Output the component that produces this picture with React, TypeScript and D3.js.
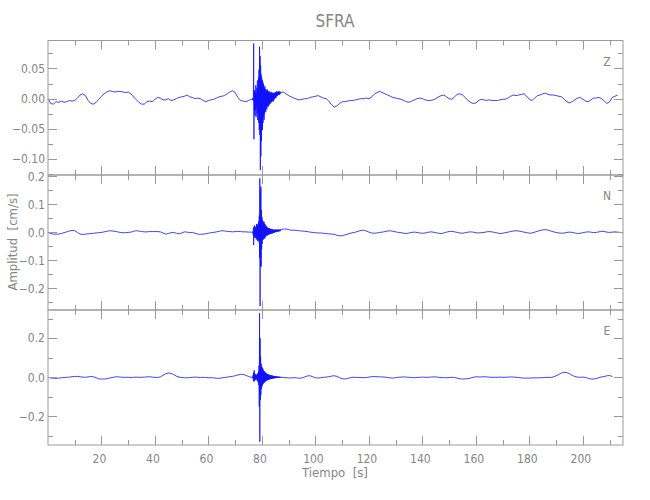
import * as d3 from 'd3';
import { useEffect, useRef } from 'react';

// station / labels
const title = 'SFRA';
const xLabel = 'Tiempo  [s]';
const yLabel = 'Amplitud  [cm/s]';
const tEnd = 215;
const xTicks = [20, 40, 60, 80, 100, 120, 140, 160, 180, 200];
const xMinor = [10, 30, 50, 70, 90, 110, 130, 150, 170, 190, 210];

// amplitudes in 1e-3 cm/s
// pre: t = 0..76 s (1 s), burst: t = 76.5 s on (0.1 s), post: t = 87 s on (1 s)
const zPre = [
  0, -8, -9, -5, -6, -4, -6, -5, -3, -4, -3, 1, 6, 8, 5, -3, -8, -9, -6, -1,
  4, 8, 11, 13, 12, 11, 12, 12, 11, 10, 11, 8, 3, -2, -6, -9, -9, -5, -4, -5,
  -1, 2, 1, -2, -2, 0, -3, -2, 0, 2, 3, 4, 6, 3, 2, 0, 1, 0, -3, -5,
  -3, -2, -1, 1, 3, 4, 5, 8, 11, 13, 10, 2, -3, -4, -5, -3, -1,
];
const zBurst = [
  -2, 1, -3, 4, 91, -67, 12, -20, 14, -28, 10, -18, 22, -30, 8, -14, 18, -25, 30, -35,
  15, -22, 35, -40, 48, -52, 86, -60, 70, -118, 55, -95, 40, -70, 35, -45, 31, -52, 28, -40,
  25, -30, 22, -35, 18, -25, 20, -18, 14, -22, 16, -15, 12, -18, 14, -12, 15, -14, 10, -12,
  12, -8, 11, -10, 12, -6, 10, -8, 9, -5, 11, -6, 8, -4, 10, -3, 9, -5, 8, -2,
  10, -1, 9, 0, 10, 2, 11, 1, 10, 4, 12, 4, 11, 5, 12, 6, 11, 7, 12, 6,
  11, 7, 12, 8, 11,
];
const zPost = [
  10, 11, 8, 5, 3, 1, -1, -2, -1, 0, 0, 2, 3, 4, 5, 3, 1, 0, -4, -10,
  -14, -12, -8, -5, -5, -4, -3, -3, -2, -1, 0, 0, 1, 0, 3, 7, 10, 12, 10, 8,
  6, 4, 2, 1, 0, -1, -3, -5, -6, -4, -2, 0, 1, 0, -2, -3, -3, -2, 0, 3,
  5, 6, 3, 0, -1, 3, 7, 8, 6, 2, -3, -6, -8, -7, -3, -1, -2, -3, -2, -3,
  -3, -3, -2, -1, -1, 1, 4, 6, 5, 6, 7, 8, 4, -1, -3, 1, 5, 6, 8, 9,
  7, 6, 6, 5, 4, 3, -1, -5, -7, -5, -2, 1, 2, -1, -4, -5, -2, 1, 1, 2,
  0, -4, -8, -5, 2, 4, 6,
];

const nPre = [
  0, -4, -6, -6, -6, -4, -1, 2, 5, 7, 6, 0, -6, -7, -6, -5, -4, -3, -2, -1,
  0, 2, 4, 6, 5, 4, 2, 0, -1, -1, 0, 1, 4, 6, 5, 3, 2, 2, 3, 3,
  3, 3, 2, -2, -6, -4, -1, 0, -3, -5, -2, 2, 1, -1, 0, -3, -6, -7, -6, -5,
  -3, -1, 0, 2, 4, 6, 5, 4, 3, 2, 3, 4, 3, 2, 2, 1, 1,
];
const nBurst = [
  0, 3, -8, 15, -45, 20, -12, 25, -18, 10, -20, 18, -14, 22, -25, 30, -22, 28, -30, 25,
  -20, 32, -28, 40, -35, 60, -90, 193, -263, 150, -120, 163, -123, 80, -60, 55, -40, 44, -27, 40,
  -25, 35, -20, 38, -22, 30, -15, 28, -18, 25, -12, 22, -10, 20, -12, 18, -8, 16, -10, 15,
  -6, 14, -8, 15, -4, 12, -6, 13, -3, 11, -5, 12, -2, 10, -4, 11, -1, 10, -2, 9,
  0, 10, -1, 9, 1, 10, 2, 9, 1, 10, 3, 9, 2, 10, 4, 9, 3, 10, 4, 9,
  5, 10, 4, 10, 6,
];
const nPost = [
  10, 12, 12, 10, 8, 8, 7, 6, 5, 4, 3, 1, 0, -1, -2, -2, -3, -4, -5, -6,
  -7, -10, -12, -12, -9, -6, -3, -1, 1, 4, 7, 8, 5, 1, -2, -3, -2, 0, 1, 3,
  5, 6, 4, 2, 0, -1, -3, -4, -2, 0, 1, 0, -2, -3, -2, 0, 2, 1, -1, -3,
  -4, -2, 1, 3, 4, 2, 0, -2, -3, -1, 1, 2, 1, -1, -2, -1, 0, 2, 3, 2,
  0, -2, -4, -3, -1, 1, 3, 5, 6, 5, 3, 1, -1, -3, -2, 1, 4, 7, 9, 10,
  8, 5, 2, 0, -2, -3, -2, 0, 1, 0, -2, -4, -3, -1, 1, 2, 1, -1, 0, 2,
  4, 3, 1, 0, 1, 2, 1, 0, -1,
];

const ePre = [
  0, -3, -5, -5, -4, -3, -1, 0, 1, 3, 4, 5, 3, 1, 0, 2, 4, 3, -2, -8,
  -9, -9, -7, -4, -1, 2, 3, 1, 0, 0, 0, -1, 0, 1, 0, 0, 1, 2, 3, 1,
  0, -1, 2, 10, 18, 22, 20, 14, 6, 1, -1, -2, -3, -1, 0, 1, 0, -1, 0, -1,
  -2, -2, -3, -5, -5, -3, -1, 1, 3, 5, 8, 12, 15, 15, 10, 4, 0,
];
const eBurst = [
  2, -5, 12, -15, 25, -22, 36, -18, 20, -12, 15, -10, 12, -15, 10, -8, 14, -12, 18, -20,
  22, -25, 30, -40, 60, -150, 328, -330, 200, -116, 106, -90, 70, -60, 54, -48, 50, -40, 45, -35,
  38, -30, 32, -28, 30, -25, 26, -22, 24, -20, 22, -18, 20, -16, 18, -15, 16, -14, 15, -12,
  14, -12, 13, -10, 12, -10, 11, -9, 10, -8, 10, -8, 9, -7, 8, -6, 8, -6, 7, -5,
  6, -5, 6, -4, 5, -4, 5, -4, 4, -3, 4, -3, 4, -3, 3, -3, 3, -2, 3, -3,
  2, -2, 3, -2, 2,
];
const ePost = [
  0, -1, -2, -3, -3, -2, -3, -5, -3, 2, 7, 8, 3, -2, -4, -2, 0, 1, 3, 6,
  8, 5, -2, -7, -9, -6, -2, 0, 0, -1, -1, -2, -1, 1, 3, 4, 3, 2, 2, 1,
  -1, -3, -4, -2, 0, 1, 2, 1, 0, -1, -2, -1, 0, 1, 0, 0, 1, 2, 2, 0,
  -1, -2, -2, -1, 0, -1, -4, -8, -9, -8, -7, -4, 0, 3, 2, 2, 3, 2, 1, 0,
  0, 0, 1, 0, 0, 1, 2, 1, 0, -1, -3, -4, -4, -4, -3, -3, -3, -2, -2, -1,
  0, -1, 2, 8, 14, 22, 26, 24, 18, 10, 4, 1, 0, 1, -1, -5, -9, -9, -6, -2,
  2, 4, 8, 9, 4,
];

type Pt = { t: number; v: number };

function trace(pre: number[], burst: number[], post: number[]): Pt[] {
  const out: Pt[] = [];
  pre.forEach((v, i) => out.push({ t: i, v: v / 1000 }));
  burst.forEach((v, i) => out.push({ t: 76.5 + i * 0.1, v: v / 1000 }));
  post.forEach((v, i) => out.push({ t: 87 + i, v: v / 1000 }));
  return out;
}

const panels = [
  {
    name: 'Z', data: trace(zPre, zBurst, zPost), domain: [-0.126, 0.096],
    ticks: [-0.1, -0.05, 0, 0.05], minor: [-0.125, -0.075, -0.025, 0.025, 0.075], fmt: '.2f',
  },
  {
    name: 'N', data: trace(nPre, nBurst, nPost), domain: [-0.277, 0.205],
    ticks: [-0.2, -0.1, 0, 0.1, 0.2], minor: [-0.25, -0.15, -0.05, 0.05, 0.15], fmt: '.1f',
  },
  {
    name: 'E', data: trace(ePre, eBurst, ePost), domain: [-0.347, 0.345],
    ticks: [-0.2, 0, 0.2], minor: [-0.3, -0.1, 0.1, 0.3], fmt: '.1f',
  },
];

const W = 650, H = 500;
const left = 48, right = 623;
const tops = [40.5, 175, 310];
const bottoms = [175, 310, 445];
const axisColor = '#9a9a9a';
const textColor = '#858585';
const font = '"Liberation Sans Narrow", "DejaVu Sans Condensed", sans-serif';

export default function App() {
  const ref = useRef<SVGSVGElement>(null);

  useEffect(() => {
    const svg = d3.select(ref.current);
    svg.selectAll('*').remove();

    const x = d3.scaleLinear().domain([0, tEnd]).range([left, right]);

    svg.append('text')
      .attr('x', 335).attr('y', 27)
      .attr('text-anchor', 'middle')
      .style('font-family', font).style('font-size', '17px')
      .style('fill', textColor)
      .text(title);

    panels.forEach((p, k) => {
      const top = tops[k], bottom = bottoms[k];
      const y = d3.scaleLinear().domain(p.domain).range([bottom, top]);
      const g = svg.append('g');

      g.append('clipPath').attr('id', 'clip' + k)
        .append('rect')
        .attr('x', left).attr('y', top)
        .attr('width', right - left).attr('height', bottom - top);

      // trace
      const line = d3.line<Pt>().x((d) => x(d.t)).y((d) => y(d.v));
      g.append('path')
        .datum(p.data)
        .attr('clip-path', `url(#clip${k})`)
        .attr('d', line)
        .attr('fill', 'none')
        .attr('stroke', '#1010ff')
        .attr('stroke-width', 0.8)
        .attr('stroke-linejoin', 'round');

      // frame
      g.append('rect')
        .attr('x', left).attr('y', top)
        .attr('width', right - left).attr('height', bottom - top)
        .attr('fill', 'none').attr('stroke', axisColor).attr('stroke-width', 1);

      // x ticks top & bottom
      const xt = xTicks.map((v) => ({ v, len: 9 })).concat(xMinor.map((v) => ({ v, len: 5 })));
      xt.forEach((d) => {
        const px = Math.round(x(d.v)) + 0.5;
        g.append('line').attr('x1', px).attr('x2', px).attr('y1', top).attr('y2', top + d.len)
          .attr('stroke', axisColor);
        g.append('line').attr('x1', px).attr('x2', px).attr('y1', bottom).attr('y2', bottom - d.len)
          .attr('stroke', axisColor);
      });

      // y ticks left & right
      const yt = p.ticks.map((v) => ({ v, len: 9 })).concat(p.minor.map((v) => ({ v, len: 5 })));
      yt.forEach((d) => {
        const py = Math.round(y(d.v)) + 0.5;
        if (py < top - 1 || py > bottom + 1) return;
        g.append('line').attr('x1', left).attr('x2', left + d.len).attr('y1', py).attr('y2', py)
          .attr('stroke', axisColor);
        g.append('line').attr('x1', right).attr('x2', right - d.len).attr('y1', py).attr('y2', py)
          .attr('stroke', axisColor);
      });

      const f = d3.format(p.fmt);
      g.selectAll('text.ytl')
        .data(p.ticks)
        .join('text')
        .attr('class', 'ytl')
        .attr('x', left - 3)
        .attr('y', (d) => y(d))
        .attr('dy', '0.35em')
        .attr('text-anchor', 'end')
        .style('font-family', font).style('font-size', '12px')
        .style('fill', textColor)
        .text((d) => f(d));

      g.append('text')
        .attr('x', 607).attr('y', top + 25)
        .attr('text-anchor', 'middle')
        .style('font-family', font).style('font-size', '12px')
        .style('fill', textColor)
        .text(p.name);
    });

    // x tick labels under last panel
    svg.selectAll('text.xtl')
      .data(xTicks)
      .join('text')
      .attr('class', 'xtl')
      .attr('x', (d) => x(d) - 2)
      .attr('y', 463)
      .attr('text-anchor', 'middle')
      .style('font-family', font).style('font-size', '12px')
      .style('fill', textColor)
      .text((d) => d);

    svg.append('text')
      .attr('x', 335).attr('y', 477)
      .attr('text-anchor', 'middle')
      .style('font-family', font).style('font-size', '13px')
      .style('white-space', 'pre')
      .style('fill', textColor)
      .text(xLabel);

    svg.append('text')
      .attr('transform', 'translate(17,242) rotate(-90)')
      .attr('text-anchor', 'middle')
      .style('font-family', font).style('font-size', '13px')
      .style('white-space', 'pre')
      .style('fill', textColor)
      .text(yLabel);
  }, []);

  return (
    <svg
      ref={ref}
      width={W}
      height={H}
      style={{ position: 'absolute', left: 0, top: 0, background: '#fff' }}
    />
  );
}
